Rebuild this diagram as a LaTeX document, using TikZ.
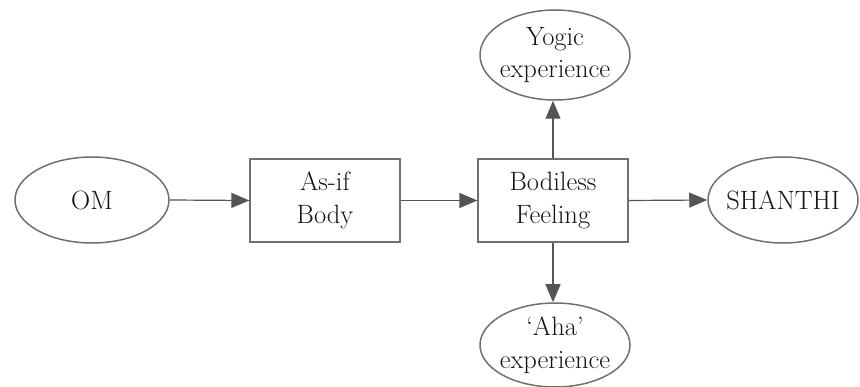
\documentclass[tikz,border=0pt]{standalone}
\usetikzlibrary{shapes.geometric,arrows.meta}
\definecolor{ink}{HTML}{151515}
\definecolor{edge}{HTML}{707070}
\definecolor{arr}{HTML}{555555}
\tikzset{
  lbl/.style={font=\fontsize{26.5}{32.5}\selectfont, text=ink, align=center},
  oval/.style={lbl, ellipse, draw=edge, line width=1.5pt, inner xsep=-14pt, inner ysep=-8pt,
               minimum width=154pt, minimum height=86pt},
  boxnode/.style={lbl, rectangle, draw=edge, line width=1.2pt, inner sep=0pt,
               minimum width=150pt, minimum height=83pt},
  conn/.style={draw=arr, line width=1.2pt, -{Triangle[length=18pt,width=15pt]}, arr}
}
\begin{document}
\begin{tikzpicture}[x=1pt,y=-1pt]
\useasboundingbox (0,0) rectangle (860,387);
\node[oval] (om) at (92,200) {OM};
\node[boxnode] (asif) at (325,200.5) {As-if\\Body};
\node[boxnode] (bod) at (553,200.5) {Bodiless\\Feeling};
\node[oval, minimum width=150pt] (sha) at (783,200) {SHANTHI};
\node[oval, minimum width=150pt, minimum height=90pt] (yog) at (555,55) {Yogic\\experience};
\node[oval, minimum width=150pt, minimum height=84pt] (aha) at (555,345) {`Aha'\\experience};
\draw[conn] (om.east) -- (asif.west);
\draw[conn] (asif.east) -- (bod.west);
\draw[conn] (bod.east) -- (sha.west);
\draw[conn] (bod.north) -- (bod.north |- yog.south);
\draw[conn] (bod.south) -- (bod.south |- aha.north);
\end{tikzpicture}
\end{document}
